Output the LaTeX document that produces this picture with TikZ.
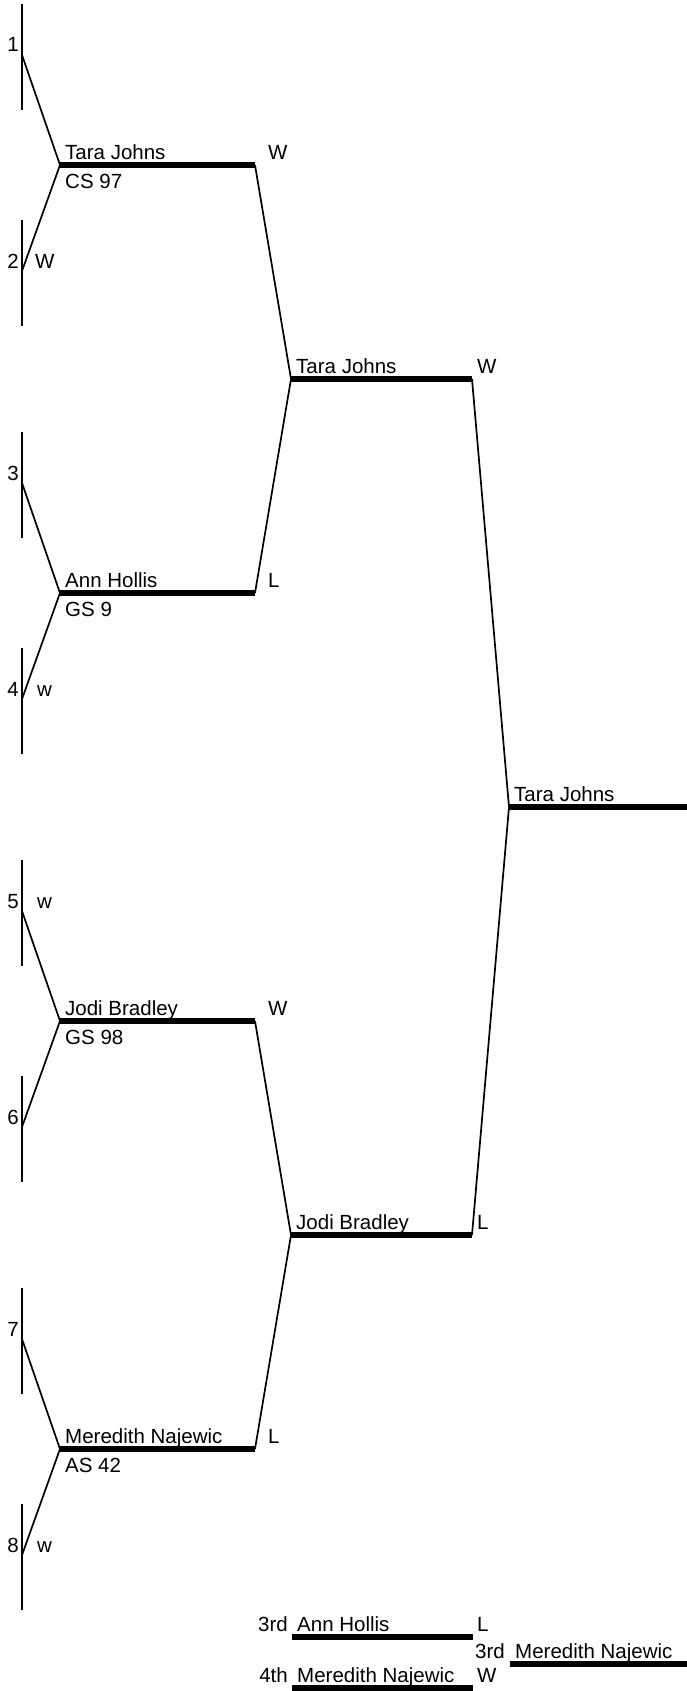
\documentclass[tikz,border=0pt]{standalone}
\usepackage{fontspec}
\setmainfont{Liberation Sans}
\usetikzlibrary{positioning}
\tikzset{bar/.style={line width=5.2pt},link/.style={line width=1.7pt,line join=round},
 txt/.style={inner sep=0pt,anchor=base west,font=\fontsize{20.5pt}{24pt}\selectfont},
 num/.style={txt,anchor=base east}}

\begin{document}
\begin{tikzpicture}[x=1pt,y=-1pt]
\useasboundingbox (0,0) rectangle (687,1691);
% seed slots
\foreach \s/\y in {1/55,2/271,3/483,4/699,5/911,6/1127,7/1339,8/1555}{
 \coordinate (s\s) at (22,\y);
 \draw[link] ([yshift=51pt]s\s) -- ([yshift=-55pt]s\s);
 \node[num] (n\s) at ([xshift=-3pt,yshift=3pt]s\s) {\s};
}
\node[txt] (w2) at ([xshift=13pt,yshift=3pt]s2) {W};
\node[txt] (w4) at ([xshift=15pt,yshift=3pt]s4) {w};
\node[txt] (w5) at ([xshift=15pt,yshift=3pt]s5) {w};
\node[txt] (w8) at ([xshift=15pt,yshift=3pt]s8) {w};

% first round
\foreach \m/\y/\who/\club/\res in {a/165/Tara Johns/CS 97/W,b/593/Ann Hollis/GS 9/L,
 c/1021/Jodi Bradley/GS 98/W,d/1449/Meredith Najewic/AS 42/L}{
 \coordinate (\m-l) at (60,\y);
 \coordinate (\m-r) at (255,\y);
 \draw[bar] (\m-l) -- (\m-r);
 \node[txt] (\m-who) at ([xshift=5pt,yshift=6pt]\m-l) {\who};
 \node[txt] (\m-club) at ([xshift=5pt,yshift=-23pt]\m-l) {\club};
 \node[txt] (\m-res) at ([xshift=13pt,yshift=6pt]\m-r) {\res};
}
\draw[link] (s1) -- (a-l) -- (s2);
\draw[link] (s3) -- (b-l) -- (s4);
\draw[link] (s5) -- (c-l) -- (s6);
\draw[link] (s7) -- (d-l) -- (s8);

% second round
\foreach \m/\y/\who/\res in {e/379/Tara Johns/W,f/1235/Jodi Bradley/L}{
 \coordinate (\m-l) at (291,\y);
 \coordinate (\m-r) at (472,\y);
 \draw[bar] (\m-l) -- (\m-r);
 \node[txt] (\m-who) at ([xshift=5pt,yshift=6pt]\m-l) {\who};
 \node[txt] (\m-res) at ([xshift=5pt,yshift=6pt]\m-r) {\res};
}
\draw[link] (a-r) -- (e-l) -- (b-r);
\draw[link] (c-r) -- (f-l) -- (d-r);

% final
\coordinate (g-l) at (509,807);
\coordinate (g-r) at (687,807);
\draw[bar] (g-l) -- (g-r);
\node[txt] (g-who) at ([xshift=5pt,yshift=6pt]g-l) {Tara Johns};
\draw[link] (e-r) -- (g-l) -- (f-r);

% third place match
\foreach \m/\y/\pl/\who/\res in {t/1637/3rd/Ann Hollis/L,u/1688/4th/Meredith Najewic/W}{
 \coordinate (\m-l) at (292,\y);
 \coordinate (\m-r) at (473,\y);
 \draw[bar] (\m-l) -- (\m-r);
 \node[num] (\m-pl) at ([xshift=-4pt,yshift=6pt]\m-l) {\pl};
 \node[txt] (\m-who) at ([xshift=5pt,yshift=6pt]\m-l) {\who};
 \node[txt] (\m-res) at ([xshift=4pt,yshift=6pt]\m-r) {\res};
}
\coordinate (v-l) at (510,1664);
\coordinate (v-r) at (687,1664);
\draw[bar] (v-l) -- (v-r);
\node[num] (v-pl) at ([xshift=-5pt,yshift=6pt]v-l) {3rd};
\node[txt] (v-who) at ([xshift=5pt,yshift=6pt]v-l) {Meredith Najewic};
\end{tikzpicture}
\end{document}
